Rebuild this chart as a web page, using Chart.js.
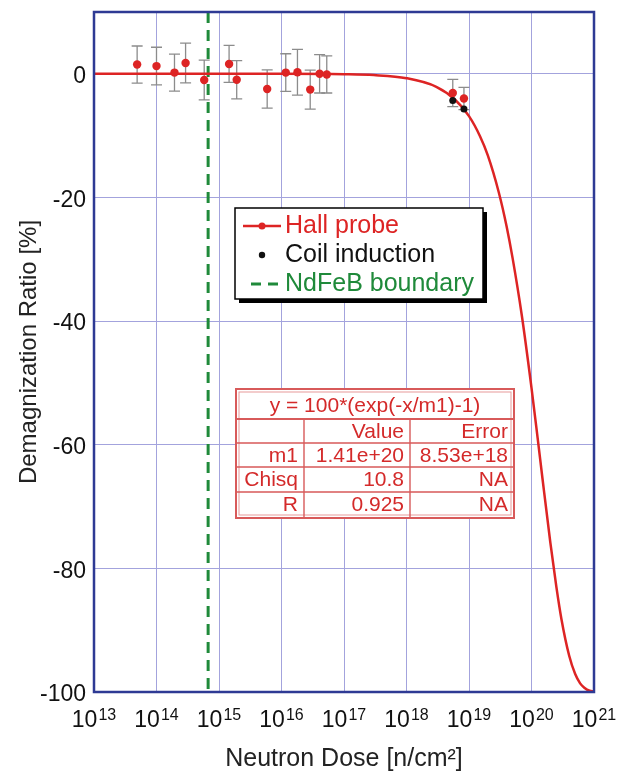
<!DOCTYPE html>
<html><head><meta charset="utf-8">
<script src="https://cdn.jsdelivr.net/npm/chart.js@4"></script>
<style>html,body{margin:0;padding:0;background:#fff}#wrap{width:624px;height:774px;position:relative}</style>
</head><body><div id="wrap"><canvas id="c" width="624" height="774"></canvas></div>
<script>
const FONT = '"Liberation Sans", Arial, Helvetica, sans-serif';

// Hall probe measurements
const hallDose  = [4.9e13, 1.0e14, 1.94e14, 2.92e14, 5.8e14, 1.45e15, 1.92e15, 5.9e15, 1.17e16, 1.8e16, 2.88e16, 4.07e16, 5.3e16, 5.5e18, 8.3e18];
const hallRatio = [1.5, 1.25, 0.2, 1.75, -1.0, 1.6, -0.95, -2.45, 0.2, 0.25, -2.55, 0.0, -0.1, -3.1, -4.0];
const hallError = [3.0, 3.05, 3.0, 3.2, 3.2, 3.0, 3.1, 3.1, 3.05, 3.7, 3.15, 3.1, 3.0, 2.2, 1.8];

// Coil induction measurements
const coilDose  = [5.5e18, 8.3e18];
const coilRatio = [-4.3, -5.7];

// Fitted curve
const fitDose  = [1e13, 1e15, 1e16, 1e17, 3e17, 1e18, 3e18, 6e18, 1e19, 1.5e19, 2e19, 3e19, 4e19, 5e19, 7e19, 1e20, 1.25e20, 1.5e20, 2e20, 2.5e20, 3e20, 4e20, 5e20, 6e20, 7e20, 8.5e20, 1e21];
const fitRatio = [0, 0, 0, -0.07, -0.21, -0.71, -2.1, -4.2, -6.85, -10.1, -13.2, -19.2, -24.7, -29.9, -39.1, -50.8, -58.8, -65.5, -75.8, -83.0, -88.1, -94.1, -97.1, -98.6, -99.3, -99.8, -99.9];

// NdFeB boundary
const boundaryDose  = [6.7e14, 6.7e14];
const boundaryRatio = [10, -100];

// Axes
const xTickValues = [1e13, 1e14, 1e15, 1e16, 1e17, 1e18, 1e19, 1e20, 1e21];
const xTickBase = '10';
const xTickExponents = ['13', '14', '15', '16', '17', '18', '19', '20', '21'];
const yTickValues = [-100, -80, -60, -40, -20, 0];
const xTitle = 'Neutron Dose [n/cm²]';
const yTitle = 'Demagnization Ratio [%]';

// Legend and fit table text
const legendLabels = ['Hall probe', 'Coil induction', 'NdFeB boundary'];
const tableTitle = 'y = 100*(exp(-x/m1)-1)';
const tableHeader = ['', 'Value', 'Error'];
const tableRows = [['m1', '1.41e+20', '8.53e+18'], ['Chisq', '10.8', 'NA'], ['R', '0.925', 'NA']];

const RED = '#dd2424', BLACK = '#111111', GREEN = '#1f8a3a';
const toPts = (xs, ys) => xs.map((x, i) => ({x, y: ys[i]}));

const overlay = {
  id: 'overlay',
  beforeDatasetsDraw(chart) {
    const {ctx, scales: {x, y}} = chart;
    ctx.save();
    ctx.strokeStyle = '#8c8c8c';
    ctx.lineWidth = 1.3;
    hallDose.forEach((d, i) => {
      const px = x.getPixelForValue(d);
      const t = y.getPixelForValue(hallRatio[i] + hallError[i]);
      const b = y.getPixelForValue(hallRatio[i] - hallError[i]);
      ctx.beginPath();
      ctx.moveTo(px, t); ctx.lineTo(px, b);
      ctx.moveTo(px - 5.5, t); ctx.lineTo(px + 5.5, t);
      ctx.moveTo(px - 5.5, b); ctx.lineTo(px + 5.5, b);
      ctx.stroke();
    });
    ctx.restore();
  },
  afterDatasetsDraw(chart) {
    const {ctx, chartArea: ca} = chart;
    ctx.save();
    // legend box
    const bx = ca.left + 141, by = ca.top + 196, bw = 248, bh = 91;
    ctx.fillStyle = '#000';
    ctx.fillRect(bx + 4, by + 4, bw, bh);
    ctx.fillStyle = '#fff';
    ctx.fillRect(bx, by, bw, bh);
    ctx.strokeStyle = '#000'; ctx.lineWidth = 1.5;
    ctx.strokeRect(bx, by, bw, bh);
    const rows = [by + 18, by + 47, by + 76];
    const colors = [RED, BLACK, GREEN];
    ctx.font = '25px ' + FONT;
    ctx.textBaseline = 'middle'; ctx.textAlign = 'left';
    // sample marks
    ctx.strokeStyle = RED; ctx.lineWidth = 2.5;
    ctx.beginPath(); ctx.moveTo(bx + 8, rows[0]); ctx.lineTo(bx + 46, rows[0]); ctx.stroke();
    ctx.fillStyle = RED; ctx.beginPath(); ctx.arc(bx + 27, rows[0], 3.5, 0, Math.PI * 2); ctx.fill();
    ctx.fillStyle = BLACK; ctx.beginPath(); ctx.arc(bx + 27, rows[1], 3.2, 0, Math.PI * 2); ctx.fill();
    ctx.strokeStyle = GREEN; ctx.lineWidth = 3; ctx.setLineDash([10, 7]);
    ctx.beginPath(); ctx.moveTo(bx + 16, rows[2]); ctx.lineTo(bx + 46, rows[2]); ctx.stroke();
    ctx.setLineDash([]);
    legendLabels.forEach((l, i) => { ctx.fillStyle = colors[i]; ctx.fillText(l, bx + 50, rows[i]); });

    // fit table
    const tx = ca.left + 142, ty = ca.top + 377;
    const cols = [tx, tx + 68, tx + 174, tx + 278];
    const rws = [ty, ty + 30, ty + 54, ty + 78, ty + 103, ty + 129];
    const LINE = '#d85a5a';
    ctx.fillStyle = '#fff';
    ctx.fillRect(cols[0], rws[0], cols[3] - cols[0], rws[5] - rws[0]);
    ctx.strokeStyle = LINE; ctx.lineWidth = 2;
    ctx.strokeRect(cols[0], rws[0], cols[3] - cols[0], rws[5] - rws[0]);
    ctx.lineWidth = 1;
    ctx.strokeStyle = '#e79a9a';
    ctx.strokeRect(cols[0] + 3, rws[0] + 3, cols[3] - cols[0] - 6, rws[5] - rws[0] - 6);
    ctx.strokeStyle = LINE; ctx.lineWidth = 2;
    ctx.beginPath(); ctx.moveTo(cols[0], rws[1]); ctx.lineTo(cols[3], rws[1]); ctx.stroke();
    ctx.lineWidth = 1.4;
    ctx.beginPath();
    for (let r = 2; r <= 4; r++) { ctx.moveTo(cols[0], rws[r]); ctx.lineTo(cols[3], rws[r]); }
    ctx.moveTo(cols[1], rws[1]); ctx.lineTo(cols[1], rws[5]);
    ctx.moveTo(cols[2], rws[1]); ctx.lineTo(cols[2], rws[5]);
    ctx.stroke();
    ctx.fillStyle = '#d42a2a';
    ctx.font = '21px ' + FONT;
    ctx.textBaseline = 'alphabetic';
    ctx.textAlign = 'center';
    ctx.fillText(tableTitle, (cols[0] + cols[3]) / 2, rws[0] + 23);
    ctx.textAlign = 'right';
    const allRows = [tableHeader].concat(tableRows);
    allRows.forEach((row, r) => {
      row.forEach((txt, c) => { if (txt) ctx.fillText(txt, cols[c + 1] - 6, rws[r + 1] + 19); });
    });
    ctx.restore();
  },
  afterDraw(chart) {
    const {ctx, chartArea: ca, scales: {x}} = chart;
    ctx.save();
    ctx.strokeStyle = '#2e3a94'; ctx.lineWidth = 2.5;
    ctx.strokeRect(ca.left, ca.top, ca.right - ca.left, ca.bottom - ca.top);
    ctx.fillStyle = '#111';
    ctx.textBaseline = 'alphabetic'; ctx.textAlign = 'left';
    xTickValues.forEach((v, i) => {
      const px = x.getPixelForValue(v);
      ctx.font = '23px ' + FONT;
      const w1 = ctx.measureText(xTickBase).width;
      ctx.font = '16px ' + FONT;
      const w2 = ctx.measureText(xTickExponents[i]).width;
      const sx = px - (w1 + w2 + 1) / 2;
      ctx.font = '23px ' + FONT;
      ctx.fillText(xTickBase, sx, ca.bottom + 35);
      ctx.font = '16px ' + FONT;
      ctx.fillText(xTickExponents[i], sx + w1 + 1, ca.bottom + 28);
    });
    ctx.restore();
  }
};

new Chart(document.getElementById('c'), {
  type: 'scatter',
  data: {
    datasets: [
      {label: legendLabels[1], data: toPts(coilDose, coilRatio), backgroundColor: BLACK, borderWidth: 0, pointRadius: 3.5, order: 0},
      {label: legendLabels[0], data: toPts(hallDose, hallRatio), backgroundColor: RED, borderWidth: 0, pointRadius: 4.2, order: 1},
      {label: 'fit', data: toPts(fitDose, fitRatio), showLine: true, borderColor: RED, borderWidth: 2.5, pointRadius: 0, cubicInterpolationMode: 'monotone', order: 2},
      {label: legendLabels[2], data: toPts(boundaryDose, boundaryRatio), showLine: true, borderColor: GREEN, borderWidth: 3, borderDash: [11, 7], pointRadius: 0, order: 3}
    ]
  },
  options: {
    responsive: false, animation: false, devicePixelRatio: 1,
    layout: {padding: {left: 0, right: 30, top: 12, bottom: 0}},
    plugins: {legend: {display: false}, tooltip: {enabled: false}},
    scales: {
      x: {
        type: 'logarithmic', min: 1e13, max: 1e21,
        afterBuildTicks: s => { s.ticks = xTickValues.map(v => ({value: v})); },
        afterFit: s => { s.height = 82; s.paddingLeft = 0; s.paddingRight = 0; },
        ticks: {display: false},
        grid: {color: '#a3a3dd', lineWidth: 1, drawTicks: false},
        border: {display: false},
        title: {display: true, text: xTitle, color: '#222', font: {family: FONT, size: 25}, padding: {top: 0, bottom: 0}}
      },
      y: {
        type: 'linear', min: -100, max: 10,
        afterBuildTicks: s => { s.ticks = yTickValues.map(v => ({value: v})); },
        afterFit: s => { s.width = 94; s.paddingTop = 0; s.paddingBottom = 0; },
        ticks: {color: '#111', padding: 8, labelOffset: 3, font: {family: FONT, size: 23, lineHeight: 1}, callback: v => String(v)},
        grid: {color: '#a3a3dd', lineWidth: 1, drawTicks: false},
        border: {display: false},
        title: {display: true, text: yTitle, color: '#222', font: {family: FONT, size: 24}, padding: {top: 15, bottom: 0}}
      }
    }
  },
  plugins: [overlay]
});
</script></body></html>
